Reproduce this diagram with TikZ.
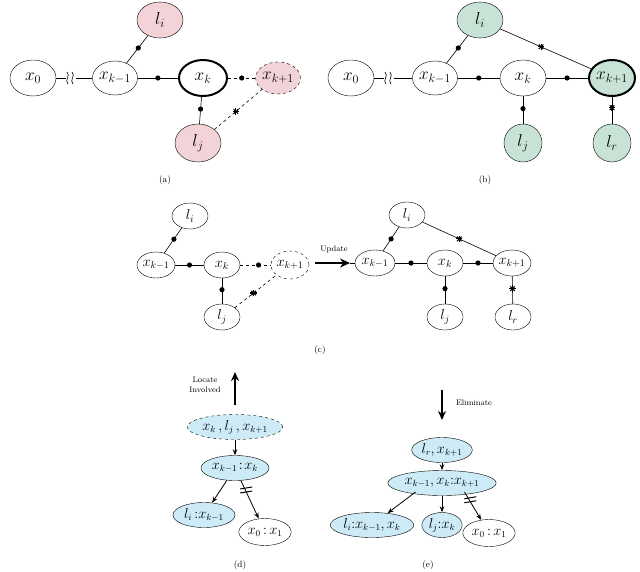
\documentclass[tikz,border=0pt]{standalone}
\usetikzlibrary{shapes.geometric,arrows.meta,calc}
\definecolor{pinkf}{HTML}{F2D3D8}
\definecolor{greenf}{HTML}{C9E2D6}
\definecolor{bluef}{HTML}{CDEBF7}
\newcommand\mystar[1]{\foreach \a in {0,45,90,135}{\draw[line width=1.1pt] (#1) ++(\a:3.2) -- ++(\a+180:6.4);}}
\newcommand\mydot[1]{\fill (#1) circle (2.6);}
\tikzset{
 big/.style={ellipse,draw,inner sep=0pt,minimum width=46pt,minimum height=36pt,font=\fontsize{17}{19}\selectfont},
 mid/.style={ellipse,draw,inner sep=0pt,minimum width=36pt,minimum height=26pt,font=\fontsize{14}{16}\selectfont},
 tr/.style={ellipse,draw,inner sep=1pt,minimum height=25pt,font=\fontsize{13.5}{15}\selectfont},
 ed/.style={line width=0.6pt},
 ta/.style={-{Stealth[length=6pt]},line width=0.8pt},
 captxt/.style={font=\fontsize{9}{11}\selectfont},
 lab/.style={font=\fontsize{8}{10}\selectfont,align=center}
}
\begin{document}
\begin{tikzpicture}[x=1pt,y=-1pt]
\useasboundingbox (0,0) rectangle (640,571);
% ---------- (a)
\node[big] (ax0) at (33,78) {$x_0$};
\node[big,minimum width=44pt,minimum height=34pt] (axm) at (115,78) {$x_{k-1}$};
\node[big,fill=pinkf] (ali) at (160,20) {$l_i$};
\node[big,line width=2pt,minimum width=48pt] (axk) at (203,78) {$x_k$};
\node[big,fill=pinkf,dashed,minimum width=44pt,minimum height=32pt] (axp) at (278,78) {$x_{k+1}$};
\node[big,fill=pinkf,minimum height=38pt] (alj) at (198,143) {$l_j$};
\draw[ed] (ax0) -- (axm);
\fill[white] (66,70) rectangle (76,86);
\draw[ed] (67,72) .. controls (71,76) and (64,80) .. (68,84);
\draw[ed] (72,72) .. controls (76,76) and (69,80) .. (73,84);
\draw[ed] (axm) -- coordinate[pos=0.5](ad1) (axk); \mydot{ad1}
\draw[ed] (axm) -- coordinate[pos=0.55](ad2) (ali); \mydot{ad2}
\draw[ed] (axk) -- coordinate[pos=0.45](ad3) (alj); \mydot{ad3}
\draw[ed,dashed] (axk) -- coordinate[pos=0.5](ad4) (axp); \mydot{ad4}
\draw[ed,dashed] (alj.north east) -- coordinate[pos=0.45](as1) (axp.south west); \mystar{as1}
\node[captxt] (capa) at (165,180) {(a)};
% ---------- (b)
\node[big] (bx0) at (351,78) {$x_0$};
\node[big,minimum width=44pt,minimum height=34pt] (bxm) at (435,78) {$x_{k-1}$};
\node[big,fill=greenf] (bli) at (480,20) {$l_i$};
\node[big] (bxk) at (523,78) {$x_k$};
\node[big,fill=greenf,line width=2pt] (bxp) at (612,78) {$x_{k+1}$};
\node[big,fill=greenf,minimum width=38pt,minimum height=38pt] (blj) at (523,143) {$l_j$};
\node[big,fill=greenf,minimum width=38pt,minimum height=38pt] (blr) at (612,143) {$l_r$};
\draw[ed] (bx0) -- (bxm);
\fill[white] (384,70) rectangle (394,86);
\draw[ed] (385,72) .. controls (389,76) and (382,80) .. (386,84);
\draw[ed] (390,72) .. controls (394,76) and (387,80) .. (391,84);
\draw[ed] (bxm) -- coordinate[pos=0.5](bd1) (bxk); \mydot{bd1}
\draw[ed] (bxm) -- coordinate[pos=0.55](bd2) (bli); \mydot{bd2}
\draw[ed] (bxk) -- coordinate[pos=0.5](bd3) (bxp); \mydot{bd3}
\draw[ed] (bxk) -- coordinate[pos=0.45](bd4) (blj); \mydot{bd4}
\draw[ed] (bli) -- coordinate[pos=0.45](bs1) (bxp); \mystar{bs1}
\draw[ed] (bxp) -- coordinate[pos=0.4](bs2) (blr); \mystar{bs2}
\node[captxt] (capb) at (485,180) {(b)};
% ---------- (c)
\node[mid] (cli) at (190,216) {$l_i$};
\node[mid,minimum width=38pt] (cxm) at (156,265) {$x_{k-1}$};
\node[mid] (cxk) at (222,265) {$x_k$};
\node[mid,dashed,minimum width=38pt,minimum height=28pt] (cxp) at (290,265) {$x_{k+1}$};
\node[mid] (clj) at (222,317) {$l_j$};
\draw[ed] (cxm) -- coordinate[pos=0.5](cd1) (cxk); \mydot{cd1}
\draw[ed] (cxm) -- coordinate[pos=0.55](cd2) (cli); \mydot{cd2}
\draw[ed] (cxk) -- coordinate[pos=0.45](cd3) (clj); \mydot{cd3}
\draw[ed,dashed] (cxk) -- coordinate[pos=0.6](cd4) (cxp); \mydot{cd4}
\draw[ed,dashed] (clj.north east) -- coordinate[pos=0.45](cs1) (cxp.south west); \mystar{cs1}
\coordinate (ua) at (315,263); \coordinate (ub) at (350,263);
\draw[-{Stealth[length=10pt,width=9pt]},line width=1.5pt] (ua) -- (ub);
\node[lab] (upd) at (334,249) {Update};
\node[mid] (dli) at (407,215) {$l_i$};
\node[mid,minimum width=40pt] (dxm) at (375,263) {$x_{k-1}$};
\node[mid] (dxk) at (445,263) {$x_k$};
\node[mid] (dxp) at (512,263) {$x_{k+1}$};
\node[mid] (dlj) at (445,317) {$l_j$};
\node[mid] (dlr) at (513,317) {$l_r$};
\coordinate (dl0) at (350,263);
\draw[ed] (dl0) -- (dxm);
\draw[ed] (dxm) -- coordinate[pos=0.5](dd1) (dxk); \mydot{dd1}
\draw[ed] (dxm) -- coordinate[pos=0.5](dd2) (dli); \mydot{dd2}
\draw[ed] (dxk) -- coordinate[pos=0.5](dd3) (dxp); \mydot{dd3}
\draw[ed] (dxk) -- coordinate[pos=0.45](dd4) (dlj); \mydot{dd4}
\draw[ed] (dli) -- coordinate[pos=0.5](ds1) (dxp); \mystar{ds1}
\draw[ed] (dxp) -- coordinate[pos=0.45](ds2) (dlr); \mystar{ds2}
\node[captxt] (capc) at (320,350) {(c)};
% ---------- (d)
\coordinate (da) at (235,405); \coordinate (db) at (235,372);
\draw[-{Stealth[length=9pt,width=8pt]},line width=1.5pt] (da) -- (db);
\node[lab] (loc) at (205,385) {Locate\\Involved};
\node[tr,fill=bluef,dashed,minimum width=82pt] (et) at (235,427) {$x_k\,,l_j\,,x_{k+1}$};
\node[tr,fill=bluef,minimum width=64pt] (em) at (235,468) {$x_{k-1}\!:\!x_k$};
\node[tr,fill=bluef,minimum width=62pt] (el) at (204,515) {$l_i\,{:}x_{k-1}$};
\node[tr,minimum width=46pt,minimum height=27pt] (er) at (265,532) {$x_0\,{:}\,x_1$};
\draw[ta] (et) -- (em);
\draw[ta] (em) -- (el);
\draw[ta] (em) -- coordinate[pos=0.3](eb) (er);
\draw[ed,line width=1pt] ($(eb)+(-6,-3)$) -- ++(12,-2) ($(eb)+(-6,1)$) -- ++(12,-2);
\node[captxt] (capd) at (240,565) {(d)};
% ---------- (e)
\coordinate (fa) at (442,390); \coordinate (fb) at (442,420);
\draw[-{Stealth[length=9pt,width=8pt]},line width=1.5pt] (fa) -- (fb);
\node[lab] (eli) at (474,403) {Eliminate};
\node[tr,fill=bluef,minimum width=50pt] (ft) at (442,450) {$l_r,x_{k+1}$};
\node[tr,fill=bluef,minimum width=92pt] (fm) at (442,483) {$x_{k-1},x_k{:}x_{k+1}$};
\node[tr,fill=bluef,minimum width=66pt] (fl) at (372,525) {$l_i{:}x_{k-1},x_k$};
\node[tr,fill=bluef,minimum width=40pt] (fc) at (442,525) {$l_j{:}x_k$};
\node[tr,minimum width=44pt,minimum height=27pt] (fr) at (489,533) {$x_0\,{:}\,x_1$};
\draw[ta] (ft) -- (fm);
\draw[ta] (fm.south west) ++(12,0) coordinate (fms) -- (fl);
\draw[ta] (fm) -- (fc);
\draw[ta] (fm.south east) ++(-16,0) coordinate (fme) -- coordinate[pos=0.35](fb2) (fr);
\draw[ed,line width=1pt] ($(fb2)+(-6,-3)$) -- ++(12,-2) ($(fb2)+(-6,1)$) -- ++(12,-2);
\node[captxt] (cape) at (428,565) {(e)};
\end{tikzpicture}
\end{document}
